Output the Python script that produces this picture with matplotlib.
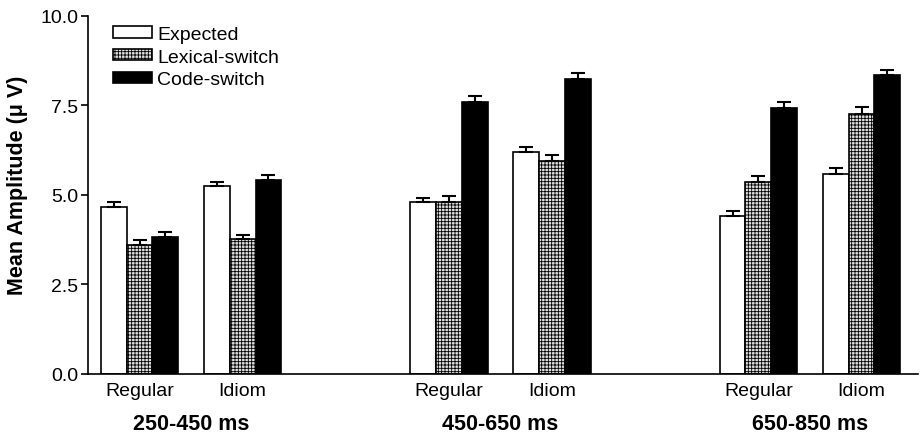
import matplotlib.pyplot as plt
import numpy as np

plt.rcParams['font.family'] = ['Liberation Sans', 'DejaVu Sans']
plt.rcParams['hatch.linewidth'] = 0.6

# data
conditions = ['Regular', 'Idiom', 'Regular', 'Idiom', 'Regular', 'Idiom']
windows = ['250-450 ms', '450-650 ms', '650-850 ms']
expected = [4.66, 5.25, 4.80, 6.20, 4.41, 5.59]
lexical = [3.60, 3.77, 4.80, 5.95, 5.36, 7.26]
code = [3.83, 5.42, 7.60, 8.24, 7.43, 8.35]
expected_err = [0.14, 0.12, 0.12, 0.14, 0.14, 0.16]
lexical_err = [0.15, 0.12, 0.16, 0.16, 0.16, 0.19]
code_err = [0.14, 0.15, 0.17, 0.17, 0.17, 0.15]

pos = np.array([0, 1, 3, 4, 6, 7])
w = 0.25

fig, ax = plt.subplots(figsize=(9.21, 4.35), dpi=100)
fig.subplots_adjust(left=0.0955, right=0.997, bottom=0.138, top=0.961)

zeros = np.zeros(len(pos))
err_kw = dict(capsize=5, elinewidth=1.5, capthick=1.5, ecolor='black')
ax.bar(pos - w, expected, w, color='white', edgecolor='black', linewidth=1.2,
       yerr=[zeros, expected_err], error_kw=err_kw, label='Expected')
ax.bar(pos, lexical, w, color='#e0e0e0', edgecolor='black', linewidth=1.2, hatch='+++++',
       yerr=[zeros, lexical_err], error_kw=err_kw, label='Lexical-switch')
ax.bar(pos + w, code, w, color='black', edgecolor='black', linewidth=1.2,
       yerr=[zeros, code_err], error_kw=err_kw, label='Code-switch')

ax.set_ylim(0, 10)
ax.set_yticks([0, 2.5, 5.0, 7.5, 10.0])
ax.set_yticklabels(['0.0', '2.5', '5.0', '7.5', '10.0'], fontsize=14)
ax.set_xlim(-0.5, 7.55)
ax.set_xticks(pos)
ax.set_xticklabels(conditions, fontsize=14)
ax.tick_params(axis='x', length=0, pad=6)
ax.tick_params(axis='y', direction='out', length=5, width=1.2, pad=2)
for s in ['top', 'right']:
    ax.spines[s].set_visible(False)
for s in ['left', 'bottom']:
    ax.spines[s].set_linewidth(1.2)

ax.set_ylabel('Mean Amplitude (\u03bc V)', fontsize=15.5, fontweight='bold')
ax.yaxis.set_label_coords(-0.072, 0.53)

for i, label in enumerate(windows):
    ax.text(3 * i + 0.5, -1.1, label, ha='center', va='top', fontsize=15.5,
            fontweight='bold')

ax.legend(loc='upper left', bbox_to_anchor=(0.018, 1.0), frameon=False, fontsize=14,
          handlelength=2.05, handleheight=0.55, handletextpad=0.25, labelspacing=0.3,
          borderaxespad=0.1)

fig.savefig('out.png', dpi=100)
